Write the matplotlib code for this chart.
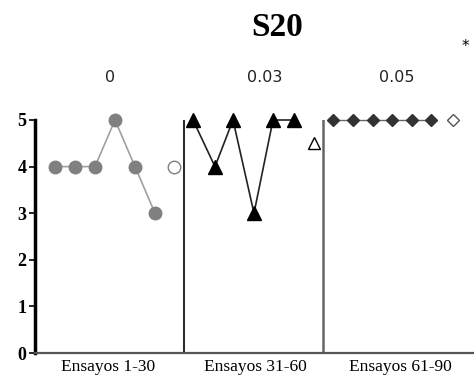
import matplotlib.pyplot as plt

# phase data (session values per block of trials)
x_p1 = [1, 2, 3, 4, 5, 6]
y_p1 = [4, 4, 4, 5, 4, 3]
x_p2 = [7.9, 9, 9.9, 10.95, 11.9, 12.95]
y_p2 = [5, 4, 5, 3, 5, 5]
x_p3 = [14.9, 15.9, 16.9, 17.85, 18.85, 19.8]
y_p3 = [5, 5, 5, 5, 5, 5]

# open markers (summary point per phase)
open_x = [6.95, 13.95, 20.9]
open_y = [4, 4.5, 5]

separators = [7.45, 14.4]
phase_labels = ['0', '0.03', '0.05']
block_labels = ['Ensayos 1-30', 'Ensayos 31-60', 'Ensayos 61-90']
block_centers = [3.65, 11.0, 18.25]

fig = plt.figure(figsize=(4.74, 3.83), dpi=100)
ax = fig.add_axes([35 / 474, 1 - 353 / 383, 1 - 35 / 474, (353 - 120) / 383])

ax.plot(x_p1, y_p1, color='#a0a0a0', lw=1.2, marker='o', ms=9,
        mfc='#808080', mec='#808080', clip_on=False)
ax.plot(x_p2, y_p2, color='#222222', lw=1.2, marker='^', ms=9.5,
        mfc='black', mec='black', clip_on=False)
ax.plot(x_p3, y_p3, color='#666666', lw=1.0, marker='D', ms=6.5,
        mfc='#333333', mec='#333333', clip_on=False)

ax.plot(open_x[0], open_y[0], marker='o', ms=9, mfc='white', mec='#808080', clip_on=False)
ax.plot(open_x[1], open_y[1], marker='^', ms=9, mfc='white', mec='black', clip_on=False)
ax.plot(open_x[2], open_y[2], marker='D', ms=6.5, mfc='white', mec='#555555', clip_on=False)

ax.plot([separators[0]] * 2, [0, 5], color='black', lw=1.2)
ax.plot([separators[1]] * 2, [0, 5], color='#666666', lw=1.8)

ax.set_xlim(0, 21.95)
ax.set_ylim(0, 5)
ax.set_xticks([])
ax.set_yticks(range(6))
ax.set_yticklabels([str(v) for v in range(6)], fontfamily='Liberation Serif',
                   fontweight='bold', fontsize=13)
ax.tick_params(axis='y', length=4, width=1.2, pad=2)

for s in ['top', 'right']:
    ax.spines[s].set_visible(False)
ax.spines['left'].set_linewidth(2.5)
ax.spines['bottom'].set_linewidth(1.6)
ax.spines['bottom'].set_color('#555555')

for c, lab in zip(block_centers, block_labels):
    ax.text(c, -0.12, lab, ha='center', va='top', fontfamily='Liberation Serif',
            fontsize=12.5)

label_x = [110, 265, 397]
for px, lab in zip(label_x, phase_labels):
    fig.text(px / 474, 1 - 78 / 383, lab, ha='center', va='center',
             fontfamily='DejaVu Sans', fontsize=11.5, color='#222222')

fig.text(277 / 474, 1 - 27 / 383, 'S20', ha='center', va='center',
         fontfamily='Liberation Serif', fontweight='bold', fontsize=24)
fig.text(465 / 474, 1 - 47 / 383, '*', ha='center', va='center',
         fontfamily='DejaVu Sans', fontsize=11)

fig.savefig('out.png', dpi=100)
